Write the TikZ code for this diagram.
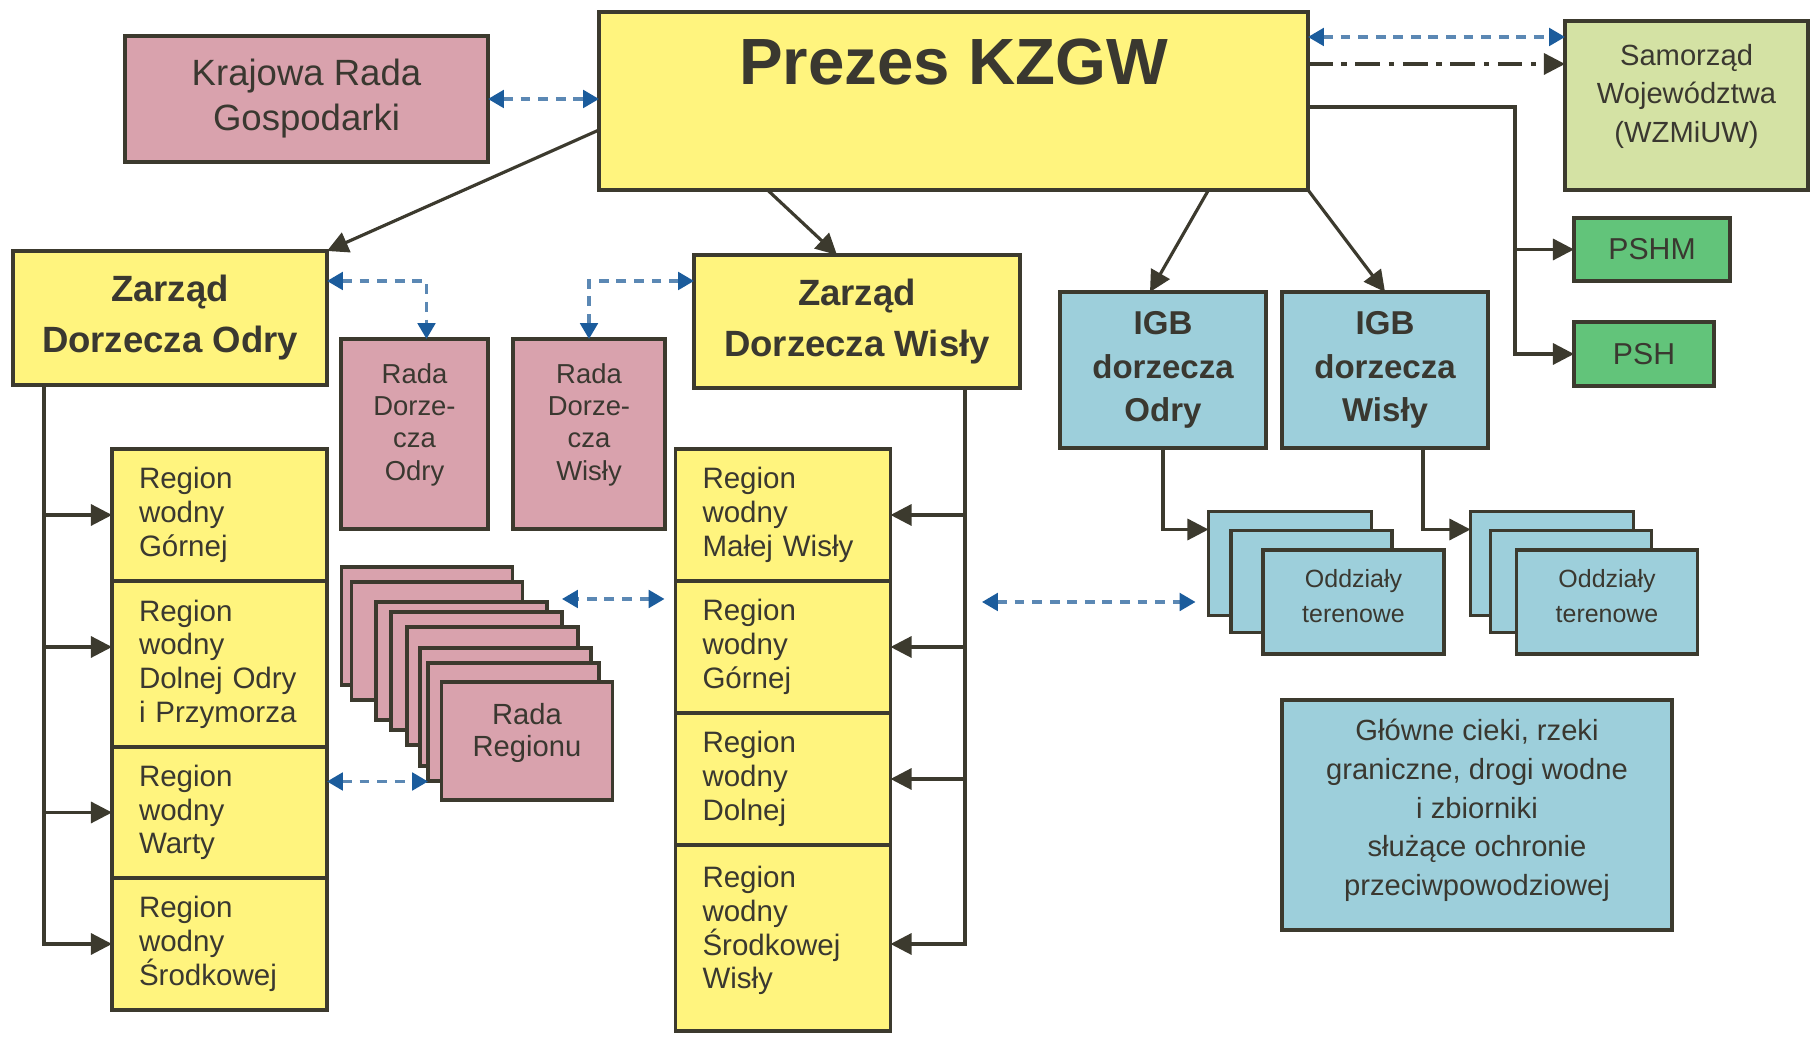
\documentclass[tikz,border=0pt]{standalone}
\usepackage{fontspec}
\setmainfont{Liberation Sans}
\setsansfont{Liberation Sans}
\usepackage{tikz}
\usetikzlibrary{arrows.meta,positioning,calc}
\definecolor{kYellow}{HTML}{FFF47E}
\definecolor{kPink}{HTML}{D9A2AD}
\definecolor{kLime}{HTML}{D4E2A4}
\definecolor{kGreen}{HTML}{62C47A}
\definecolor{kCyan}{HTML}{9DCFDB}
\definecolor{kBorder}{HTML}{3C3A2E}
\definecolor{kText}{HTML}{3A3830}
\definecolor{kBlue}{HTML}{1B5C9C}
\definecolor{kBlueLine}{HTML}{5B88B4}
\newcommand{\fsz}[2]{\fontsize{#1}{#2}\selectfont}
\tikzset{
  orgA/.style={
    font=\sffamily,
    every node/.style={outer sep=0pt},
    line width=0.9pt,
  },
  box/.style={
    draw=kBorder, line width=0.9pt, text=kText,
    align=center, inner sep=2pt,
  },
  boxYellow/.style={box, fill=kYellow},
  boxPink/.style={box, fill=kPink},
  boxLime/.style={box, fill=kLime},
  boxGreen/.style={box, fill=kGreen},
  boxCyan/.style={box, fill=kCyan},
  % deeper last line, so the text block sits a little higher
  liftText/.style={execute at end node={\rule[-#1]{0pt}{0pt}}},
  regionCell/.style={
    boxYellow, align=left, text width=1.61cm,
    inner xsep=0.27cm, inner ysep=0pt, font=\fsz{8.4}{9.6},
  },
  flow/.style={-{Triangle[length=6pt, width=6pt]}, draw=kBorder, line width=0.9pt},
  linkFlow/.style={
    {Triangle[length=4.5pt, width=5pt, color=kBlue]}-{Triangle[length=4.5pt, width=5pt, color=kBlue]},
    draw=kBlueLine, line width=0.9pt, dash pattern=on 2.8pt off 2.2pt,
  },
  dashDotFlow/.style={
    -{Triangle[length=6pt, width=6pt]}, draw=kBorder, line width=0.9pt,
    dash pattern=on 7pt off 2.5pt on 1.5pt off 2.5pt,
  },
}

\begin{document}
\begin{tikzpicture}[orgA, x=1cm, y=1cm]
\useasboundingbox (0,0) rectangle (18.16,10.37);

% ============================================================
% Top row: Prezes KZGW and its partners
% ============================================================
\node[boxYellow, minimum width=7.09cm, inner ysep=0pt,
      text height=0.73cm, text depth=1.05cm,
      font=\fsz{18.6}{22}\bfseries]
  (pres) at (9.535, 9.36) {Prezes KZGW};

\node[boxPink, minimum width=3.63cm, minimum height=1.26cm,
      font=\fsz{10.4}{12.8}]
  (krg) at (3.065, 9.38) {Krajowa Rada\\Gospodarki};

\node[boxLime, minimum width=2.43cm, minimum height=1.69cm,
      font=\fsz{8.3}{11}, liftText=7pt]
  (samw) at (16.865, 9.315) {Samorząd\\Województwa\\(WZMiUW)};

\node[boxGreen, minimum width=1.56cm, minimum height=0.63cm,
      font=\fsz{8.6}{10}]
  (pshm) at (16.52, 7.875) {PSHM};
\node[boxGreen, minimum width=1.40cm, minimum height=0.64cm,
      font=\fsz{8.6}{10}]
  (psh) at (16.44, 6.83) {PSH};

% ============================================================
% Second row: river basin boards, councils, IGB
% ============================================================
\node[boxYellow, minimum width=3.14cm, minimum height=1.34cm,
      font=\fsz{10.4}{14.5}\bfseries]
  (zdo) at (1.70, 7.19) {Zarząd\\Dorzecza Odry};
\node[boxYellow, minimum width=3.26cm, minimum height=1.33cm,
      font=\fsz{10.4}{14.5}\bfseries]
  (zdw) at (8.57, 7.155) {Zarząd\\Dorzecza Wisły};

\node[boxCyan, minimum width=2.06cm, minimum height=1.56cm,
      font=\fsz{9.4}{12.4}\bfseries]
  (igbo) at (11.63, 6.67) {IGB\\dorzecza\\Odry};
\node[boxCyan, minimum width=2.06cm, minimum height=1.56cm,
      font=\fsz{9.4}{12.4}\bfseries]
  (igbw) at (13.85, 6.67) {IGB\\dorzecza\\Wisły};

\node[boxPink, minimum width=1.47cm, minimum height=1.90cm,
      font=\fsz{7.8}{9.2}, liftText=7pt]
  (rdo) at (4.145, 6.03) {Rada\\Dorze-\\cza\\Odry};
\node[boxPink, minimum width=1.52cm, minimum height=1.90cm,
      font=\fsz{7.8}{9.2}, liftText=7pt]
  (rdw) at (5.89, 6.03) {Rada\\Dorze-\\cza\\Wisły};

% ============================================================
% Water regions (two stacked columns)
% ============================================================
\node[regionCell, minimum height=1.32cm] (or1) at (2.195, 5.22) {Region\\wodny\\Górnej};
\node[regionCell, minimum height=1.66cm, below=0pt of or1] (or2) {Region\\wodny\\Dolnej Odry\\i Przymorza};
\node[regionCell, minimum height=1.31cm, below=0pt of or2] (or3) {Region\\wodny\\Warty};
\node[regionCell, minimum height=1.32cm, below=0pt of or3] (or4) {Region\\wodny\\Środkowej};

\node[regionCell, minimum height=1.32cm] (wr1) at (7.83, 5.22) {Region\\wodny\\Małej Wisły};
\node[regionCell, minimum height=1.32cm, below=0pt of wr1] (wr2) {Region\\wodny\\Górnej};
\node[regionCell, minimum height=1.32cm, below=0pt of wr2] (wr3) {Region\\wodny\\Dolnej};
\node[regionCell, minimum height=1.86cm, below=0pt of wr3, liftText=6pt] (wr4) {Region\\wodny\\Środkowej\\Wisły};

% Rada Regionu stack, drawn back to front
\foreach \px/\py [count=\k from 0] in
    {4.27/4.11, 4.37/3.96, 4.615/3.76, 4.765/3.66, 4.925/3.51, 5.055/3.30, 5.135/3.15}
  \node[boxPink, minimum width=1.71cm, minimum height=1.18cm] (rreg\k) at (\px, \py) {};
\node[boxPink, minimum width=1.71cm, minimum height=1.18cm,
      font=\fsz{8.3}{9.2}, liftText=6.4pt]
  (rreg7) at (5.27, 2.96) {Rada\\Regionu};

% ============================================================
% Field offices (two stacks of three) and main-river box
% ============================================================
\foreach \sx/\mx/\fx/\nm in {12.90/13.115/13.535/odo, 15.52/15.71/16.07/odw} {
  \node[boxCyan, minimum width=1.63cm, minimum height=1.04cm] (\nm1) at (\sx, 4.735) {};
  \node[boxCyan, minimum width=1.61cm, minimum height=1.02cm] (\nm2) at (\mx, 4.554) {};
  \node[boxCyan, minimum width=1.81cm, minimum height=1.04cm,
        font=\fsz{7.1}{9.9}, liftText=3.3pt]
    (\nm3) at (\fx, 4.35) {Oddziały\\terenowe};
}

\node[boxCyan, minimum width=3.90cm, minimum height=2.30cm,
      font=\fsz{8.3}{11}, liftText=4.4pt]
  (glc) at (14.77, 2.22)
  {Główne cieki, rzeki\\graniczne, drogi wodne\\i zbiorniki\\służące ochronie\\przeciwpowodziowej};

% ============================================================
% Connectors from Prezes
% ============================================================
\draw[linkFlow] (krg.east) -- (krg.east -| pres.west);
\draw[linkFlow] ([yshift=-0.25cm]pres.north east) -- ([yshift=-0.25cm]pres.north east -| samw.west);
\draw[dashDotFlow] ([yshift=-0.52cm]pres.north east) -- ([yshift=-0.52cm]pres.north east -| samw.west);

\draw[flow] ([yshift=-0.29cm]pres.west) -- (zdo.north east);
\draw[flow] ([xshift=-1.86cm]pres.south) -- ([xshift=-0.2cm]zdw.north);
\draw[flow] ([xshift=2.55cm]pres.south) -- ([xshift=-0.13cm]igbo.north);
\draw[flow] (pres.south east) -- (igbw.north);

% hydro-meteo services
\coordinate (hmBus) at ([xshift=-0.59cm]psh.west);
\draw[flow] ([yshift=-0.95cm]pres.north east) -| (hmBus) -- (psh.west);
\draw[flow] (hmBus |- pshm.west) -- (pshm.west);

% ============================================================
% Boards -> councils and regions
% ============================================================
\draw[linkFlow] ([yshift=0.37cm]zdo.east) -| ([xshift=0.12cm]rdo.north);
\draw[linkFlow] ([yshift=0.405cm]zdw.west) -| (rdw.north);

\coordinate (odTrunk) at ([xshift=0.31cm]zdo.south west);
\draw[flow] (odTrunk) |- (or4.west);
\draw[flow] (odTrunk |- or1.west) -- (or1.west);
\draw[flow] ($(odTrunk |- or2.west)+(0,0.17)$) -- ($(or2.west)+(0,0.17)$);
\draw[flow] (odTrunk |- or3.west) -- (or3.west);

\coordinate (wsTrunk) at ([xshift=-0.55cm]zdw.south east);
\draw[flow] (wsTrunk) |- ($(wr4.east)+(0,-0.06)$);
\foreach \c in {wr1, wr2, wr3}
  \draw[flow] (wsTrunk |- \c.east) -- (\c.east);

% Rada Regionu links
\coordinate (rregLink) at ($(or3.east)+(0,0.31)$);
\draw[linkFlow] (rregLink) -- (rregLink -| rreg6.west);
\coordinate (wrLink) at ($(wr2.west)+(-0.11,0.48)$);
\draw[linkFlow] (wrLink) -- (wrLink -| rreg3.north east);

% ============================================================
% IGB -> field offices
% ============================================================
\draw[flow] (igbo.south) |- ([yshift=0.34cm]odo1.west);
\draw[flow] ([xshift=0.38cm]igbw.south) |- ([yshift=0.34cm]odw1.west);
\draw[linkFlow] ($(wsTrunk |- odo3.west)+(0.17,0)$) -- ($(odo1.west |- odo3.west)+(-0.13,0)$);

\end{tikzpicture}
\end{document}
